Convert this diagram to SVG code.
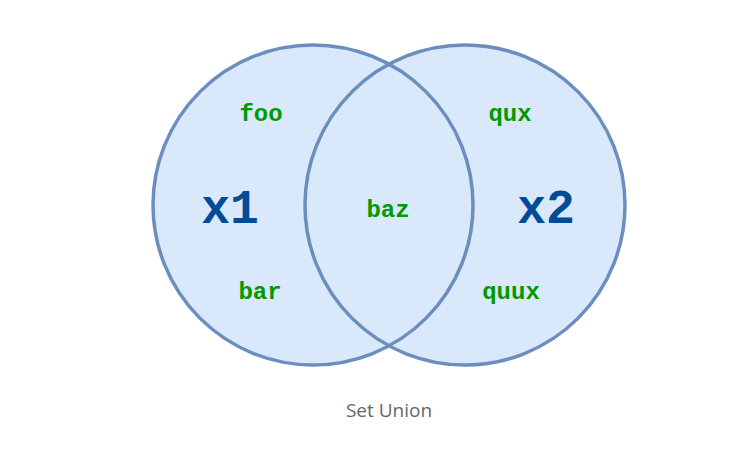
<svg xmlns="http://www.w3.org/2000/svg" width="752" height="453" viewBox="0 0 752 453">
<style>
.c{fill:#dae8fc;stroke:none}
.s{fill:none;stroke:#6c8ebf;stroke-width:3.5}
.t{font-family:"Liberation Mono",monospace;font-weight:bold;font-size:24px;fill:#009900;text-anchor:middle;dominant-baseline:central}
.x{font-family:"Liberation Mono",monospace;font-weight:bold;font-size:48px;fill:#004c99;text-anchor:middle;dominant-baseline:central}
.cap{font-family:"Source Sans Pro","Open Sans","Noto Sans",sans-serif;font-size:19px;fill:#666666;text-anchor:middle;dominant-baseline:central}
</style>
<rect width="752" height="453" fill="#ffffff"/>
<g id="fills">
<circle class="c" cx="313" cy="205" r="160"/>
<circle class="c" cx="465" cy="205" r="160"/>
</g>
<g id="x1">
<circle class="s" cx="313" cy="205" r="160"/>
<text class="x" x="230" y="210">x1</text>
<text class="t" x="261" y="114">foo</text>
<text class="t" x="260" y="292">bar</text>
</g>
<g id="x2">
<circle class="s" cx="465" cy="205" r="160"/>
<text class="x" x="546" y="210">x2</text>
<text class="t" x="510" y="114">qux</text>
<text class="t" x="511" y="292">quux</text>
</g>
<g id="intersection">
<text class="t" x="388" y="210">baz</text>
</g>
<g id="connectors"></g>
<g id="caption">
<text class="cap" x="389" y="410">Set Union</text>
</g>
</svg>
